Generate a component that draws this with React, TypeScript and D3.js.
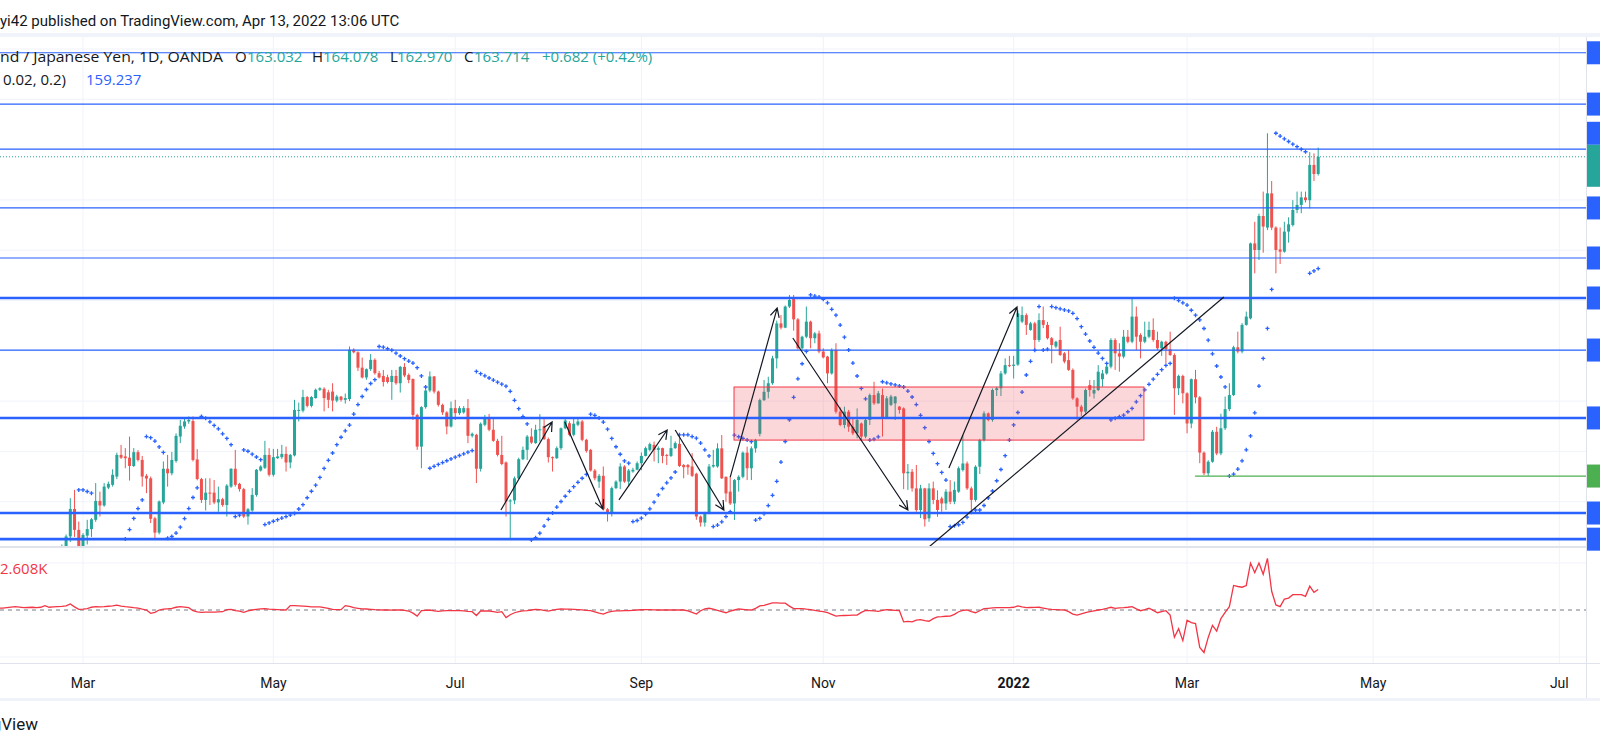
import React from "react";
import * as d3 from "d3";

// ---------- DATA ----------
const FIRST_BAR_DATE = "2021-02-01"; // daily bars, weekdays only

// [open, high, low, close] per daily bar, from 2021-02-01 to 2022-04-13
const candles: [number, number, number, number][] = [
  [143.9,144.3,143.4,143.8],[143.8,144.0,143.3,143.7],[143.7,144.2,143.6,144.0],[144.0,144.1,143.3,143.5],[143.5,143.9,143.2,143.8],
  [143.8,144.7,143.7,144.5],[144.5,144.6,143.6,143.9],[143.9,144.0,143.3,143.5],[143.5,144.2,143.4,144.1],[144.1,145.4,144.0,145.2],
  [145.2,146.5,145.1,146.3],[146.3,147.2,146.0,146.9],[146.9,147.1,146.4,146.7],[146.7,147.5,146.3,147.3],[147.3,148.0,147.0,147.8],
  [147.8,148.3,147.5,148.1],[148.1,148.7,147.8,148.62],[148.62,150.14,148.4,149.71],[149.71,150.47,148.6,148.88],[148.88,149.21,147.2,148.0],
  [148.0,148.75,147.6,148.68],[148.65,149.28,148.3,148.91],[148.91,149.35,148.6,149.3],[149.28,150.74,149.2,150.03],[150.03,150.4,149.41,149.85],
  [149.85,150.74,149.8,150.6],[150.56,150.8,150.5,150.71],[150.67,151.29,150.6,151.07],[151.0,151.95,150.9,151.86],[151.86,152.26,151.7,151.75],
  [151.8,152.13,151.33,151.73],[151.75,152.59,150.84,151.42],[151.42,152.13,151.38,151.97],[151.97,152.05,151.6,151.66],[151.66,151.82,150.6,151.0],
  [151.03,151.1,150.34,150.92],[150.93,151.0,149.15,149.32],[149.34,149.4,148.55,148.77],[148.77,150.05,148.7,150.01],[149.97,151.6,149.9,151.31],
  [151.31,151.86,150.6,151.13],[151.13,151.98,151.05,151.66],[151.62,152.72,151.55,152.62],[152.59,153.25,152.33,153.02],[152.99,153.3,152.9,153.19],
  [153.19,153.39,153.1,153.25],[153.21,153.39,151.6,151.66],[151.68,152.09,150.85,150.9],[150.9,150.95,149.95,150.07],[150.07,150.93,149.65,150.36],
  [150.36,150.93,149.87,150.34],[150.36,150.86,149.9,149.97],[149.97,150.6,149.6,150.1],[150.1,150.15,149.8,149.87],[149.87,150.7,149.41,150.64],
  [150.6,151.33,150.55,151.31],[151.31,152.06,150.6,150.67],[150.71,150.75,150.4,150.5],[150.5,150.55,149.35,149.41],[149.41,149.75,149.09,149.7],
  [149.65,150.54,149.6,150.27],[150.27,151.3,150.2,151.27],[151.24,151.45,151.2,151.4],[151.35,152.42,151.3,151.86],[151.86,152.13,151.0,151.07],
  [151.07,152.1,151.0,151.77],[151.73,152.1,151.7,151.8],[151.77,152.26,151.7,151.9],[151.9,152.19,151.2,151.56],[151.56,151.9,151.33,151.86],
  [151.84,154.05,151.8,153.65],[153.62,153.94,153.19,153.65],[153.62,154.45,153.55,154.16],[154.16,154.2,153.75,153.81],[153.81,154.2,153.75,154.16],
  [154.12,154.5,154.1,154.45],[154.45,154.55,154.4,154.51],[154.49,154.55,153.59,154.12],[154.35,154.45,153.72,154.05],[154.38,154.71,153.59,154.02],
  [154.02,154.25,153.95,154.18],[154.18,154.2,153.98,154.05],[154.05,154.3,153.9,154.12],[154.08,156.17,154.0,156.04],[156.04,156.1,155.9,155.94],
  [155.94,155.98,155.2,155.33],[155.33,155.73,154.9,154.94],[154.94,155.3,154.85,155.27],[155.27,155.87,155.2,155.64],[155.64,155.7,155.05,155.11],
  [155.11,155.2,154.9,154.94],[155.0,155.24,154.58,154.76],[154.95,155.05,154.7,154.76],[154.76,155.24,154.05,155.0],[155.0,155.24,154.65,154.71],
  [154.71,155.4,154.34,155.36],[155.36,155.51,154.95,155.02],[155.04,155.1,154.71,154.84],[154.88,154.9,153.25,153.45],[153.45,153.5,152.06,152.19],
  [152.19,153.8,151.33,153.76],[153.76,154.5,153.7,154.42],[154.42,155.18,154.35,154.98],[154.98,155.0,154.3,154.38],[154.38,154.42,153.78,153.85],
  [153.85,153.9,153.45,153.55],[153.55,153.6,152.68,152.99],[152.99,153.98,152.95,153.72],[153.72,154.05,153.25,153.52],[153.52,153.8,153.45,153.72],
  [153.55,153.8,153.5,153.72],[153.72,154.08,152.33,152.62],[152.62,152.75,152.55,152.7],[152.66,152.7,150.74,151.31],[151.31,153.15,151.2,153.1],
  [153.06,153.45,153.0,153.35],[153.29,153.49,152.8,152.86],[152.86,153.29,152.38,152.42],[152.42,152.5,151.8,151.86],[151.86,152.62,151.45,151.5],
  [151.56,151.6,149.41,150.01],[150.01,150.1,148.48,150.05],[150.05,151.0,149.9,150.93],[150.93,151.75,150.9,151.69],[151.69,152.19,151.65,152.06],
  [152.06,152.65,151.66,152.59],[152.59,152.92,152.3,152.35],[152.33,153.06,152.3,152.86],[152.86,153.48,152.39,152.88],[153.0,153.28,152.45,152.49],
  [152.49,152.55,151.56,151.77],[151.77,151.8,151.2,151.73],[151.73,152.2,151.7,152.13],[152.13,152.95,152.06,152.92],[152.92,153.3,152.88,153.23],
  [153.12,153.2,152.6,152.66],[152.66,153.32,152.6,153.1],[153.06,153.32,153.0,153.19],[153.19,153.25,152.4,152.46],[152.46,152.5,151.95,152.02],
  [152.06,152.1,151.2,151.24],[151.24,151.3,150.85,150.93],[150.8,151.1,150.55,151.03],[151.03,151.4,149.65,149.7],[149.7,149.75,149.21,149.54],
  [149.54,150.6,149.41,150.54],[150.54,150.85,150.5,150.8],[150.8,151.53,150.5,151.4],[151.4,151.45,150.75,150.8],[150.8,151.3,150.6,151.24],
  [151.2,151.35,151.15,151.27],[151.27,151.6,151.25,151.53],[151.53,151.96,151.25,151.82],[151.82,152.19,151.8,152.13],[152.06,152.35,152.0,152.29],
  [152.26,152.39,151.6,152.06],[152.06,152.2,151.53,152.13],[152.13,152.15,151.53,151.82],[151.86,151.9,151.46,151.82],[151.82,152.62,151.78,152.13],
  [152.13,152.4,152.1,152.33],[152.3,152.66,151.38,151.42],[151.46,151.5,150.93,151.37],[151.46,151.5,151.07,151.37],[151.4,151.93,150.98,151.03],
  [151.11,151.15,149.28,149.41],[149.41,149.45,149.01,149.17],[149.17,149.6,149.01,149.57],[149.54,151.5,149.5,151.4],[151.4,152.06,151.35,151.46],
  [151.4,152.32,151.35,152.12],[152.12,152.65,150.9,150.93],[150.99,151.0,150.0,150.33],[150.4,150.99,149.87,149.93],[149.93,150.9,149.27,150.86],
  [150.86,151.05,150.4,150.99],[150.99,152.0,150.93,151.95],[151.95,152.19,150.86,151.33],[151.33,152.2,150.86,152.12],[152.12,152.5,151.95,152.45],
  [152.7,154.1,152.6,154.04],[154.04,154.84,154.0,154.37],[154.37,154.97,154.11,154.71],[154.71,155.8,154.65,155.7],[155.7,157.2,155.3,157.09],
  [157.09,157.42,156.85,156.92],[156.92,157.8,156.9,157.76],[157.76,158.22,157.7,158.02],[158.09,158.22,156.8,157.25],[157.25,157.3,156.05,156.1],
  [156.1,156.6,156.05,156.56],[156.56,157.76,156.5,157.16],[157.16,157.2,156.1,156.5],[156.5,156.75,156.3,156.69],[156.69,156.8,155.9,155.97],
  [155.97,156.1,155.7,155.74],[155.77,155.8,154.71,155.1],[155.1,156.1,155.05,156.03],[156.03,156.3,153.5,153.58],[153.58,153.75,153.0,153.05],
  [153.05,153.78,152.92,153.58],[153.58,153.65,152.78,152.98],[152.98,153.3,152.65,152.72],[152.72,153.71,152.52,153.25],[153.11,153.15,152.45,152.59],
  [152.59,153.3,152.52,153.25],[153.25,154.3,153.05,154.24],[154.24,154.77,153.85,153.91],[153.91,154.4,153.9,154.31],[154.24,154.5,152.59,153.31],
  [153.31,154.2,153.3,154.11],[153.85,154.25,153.8,154.18],[153.91,154.2,153.25,154.18],[153.78,153.8,153.5,153.65],[153.71,153.75,150.5,151.13],
  [151.13,151.5,150.47,151.19],[151.19,151.3,150.4,150.53],[150.53,151.46,149.6,149.67],[149.67,150.67,149.35,150.53],[150.53,150.55,149.01,149.3],
  [149.34,150.73,149.2,150.53],[150.53,150.8,149.9,150.07],[150.07,150.45,149.4,149.67],[150.13,150.2,149.6,149.93],[149.93,150.5,149.67,150.4],
  [150.4,150.86,149.9,150.0],[150.0,150.8,149.9,150.47],[150.4,151.4,150.35,151.33],[151.26,152.65,151.2,151.52],[151.52,151.6,150.47,150.53],
  [150.53,150.6,149.67,150.07],[150.07,151.45,150.0,151.39],[151.39,152.5,151.1,152.45],[152.45,153.6,152.39,153.51],[153.51,153.55,153.2,153.25],
  [153.25,154.5,153.18,154.44],[154.44,154.57,154.2,154.51],[154.51,155.2,154.2,155.1],[155.1,155.7,155.05,155.43],[155.43,155.8,155.35,155.4],
  [155.4,155.8,154.9,155.45],[155.45,157.6,155.4,157.49],[157.16,157.76,157.1,157.42],[157.42,157.49,156.63,157.03],[156.83,157.15,156.8,157.09],
  [157.09,157.15,156.03,156.43],[156.43,157.49,156.35,157.22],[157.22,157.76,156.9,157.03],[157.03,157.15,156.45,156.5],[156.5,156.55,155.5,156.23],
  [156.17,156.4,156.1,156.36],[156.43,156.96,155.8,155.83],[155.9,155.95,155.5,155.57],[155.63,156.03,155.2,155.24],[155.24,155.3,154.05,154.11],
  [154.11,154.15,153.25,153.78],[153.78,153.85,153.4,153.58],[153.58,154.5,153.5,154.44],[154.64,154.84,154.18,154.44],[154.3,154.84,154.1,154.44],
  [154.44,155.43,154.4,155.17],[154.87,155.24,154.57,155.1],[155.1,155.45,155.05,155.37],[155.37,156.5,155.3,156.43],[156.43,156.5,155.24,155.9],
  [155.9,156.3,155.17,155.77],[155.77,156.83,155.7,156.56],[156.56,156.83,156.3,156.36],[156.36,158.09,156.3,157.36],[157.36,157.76,156.03,156.56],
  [156.63,156.7,155.7,156.36],[156.36,157.16,156.3,156.56],[156.56,157.16,156.5,156.83],[156.83,157.29,156.36,156.43],[156.43,156.76,156.03,156.1],
  [156.1,156.4,155.8,156.36],[156.36,156.4,155.5,156.06],[156.06,156.76,155.8,155.83],[155.83,155.9,153.45,154.51],[154.51,155.05,154.24,155.0],
  [155.0,155.05,153.91,154.31],[154.31,154.35,152.72,153.11],[153.11,154.9,152.92,154.87],[154.87,155.24,153.91,154.15],[154.15,154.2,151.53,151.95],
  [151.95,152.0,151.06,151.13],[151.13,151.65,151.02,151.59],[151.59,152.85,151.55,152.78],[152.78,152.98,151.85,151.92],[151.92,153.5,151.85,152.92],
  [152.92,154.18,152.85,153.68],[153.68,154.71,153.6,154.24],[154.24,156.2,154.2,156.14],[156.14,156.76,155.9,155.97],[155.97,157.1,155.9,157.03],
  [157.03,157.56,157.0,157.36],[157.29,160.3,157.25,160.27],[160.27,161.13,159.08,160.01],[160.01,161.45,159.61,161.36],[161.36,162.33,159.9,160.94],
  [160.9,164.65,160.8,162.26],[162.26,162.75,160.8,160.9],[160.9,160.95,159.08,160.01],[160.03,160.9,159.45,159.94],[159.94,161.13,159.9,160.74],
  [160.74,161.31,160.3,161.03],[161.0,161.99,160.94,161.6],[161.6,162.33,161.47,161.8],[161.8,162.33,161.47,162.1],[162.1,162.33,161.9,161.99],
  [161.99,163.9,161.66,163.39],[163.39,163.85,162.75,163.03],[163.032,164.078,162.97,163.714],
];

// lower pane oscillator, thousands
const oscillator: number[] = [
  0.22,0.25,0.30,0.36,0.43,0.38,0.30,0.32,0.35,0.30,0.35,0.56,0.35,0.40,0.43,0.45,0.52,0.78,0.40,0.09,
  0.12,0.17,0.35,0.43,0.39,0.42,0.48,0.52,0.61,0.50,0.43,0.38,0.30,0.25,0.10,0.0,-0.43,-0.30,0.0,0.10,
  0.15,0.20,0.35,0.43,0.38,0.30,-0.09,-0.25,-0.30,-0.28,-0.27,-0.26,-0.24,-0.22,0.05,0.09,-0.09,-0.15,-0.30,-0.10,
  0.0,0.08,0.15,0.17,0.12,0.09,0.05,0.02,0.0,0.56,0.55,0.52,0.50,0.45,0.39,0.40,0.39,0.30,0.20,0.09,
  0.06,0.04,0.56,0.45,0.30,0.22,0.15,0.13,0.08,0.04,0.02,0.0,0.02,-0.02,0.0,0.0,-0.05,-0.13,-0.40,-0.78,
  -0.09,-0.05,0.0,-0.10,-0.17,-0.12,-0.09,-0.08,-0.09,-0.09,-0.12,-0.18,-0.22,-0.70,-0.13,-0.12,-0.13,-0.20,-0.30,-0.22,
  -0.96,-0.60,-0.35,-0.20,-0.12,-0.09,0.0,0.09,0.05,-0.05,-0.13,-0.02,0.08,0.13,0.12,0.10,0.09,0.06,0.02,-0.05,
  -0.09,-0.25,-0.40,-0.52,-0.30,-0.17,-0.12,-0.10,-0.09,-0.09,-0.05,0.0,0.03,0.04,0.04,0.02,0.0,0.0,0.0,0.0,
  0.0,0.0,0.0,-0.10,-0.30,-0.52,-0.10,0.15,0.22,0.10,-0.05,-0.20,-0.35,-0.15,0.0,0.13,0.08,0.02,0.0,0.20,
  0.52,0.60,0.75,0.91,0.90,0.88,0.87,0.50,0.17,0.18,0.17,0.10,0.05,-0.05,-0.13,-0.20,-0.35,-0.55,-0.78,-0.72,
  -0.70,-0.68,-0.66,-0.65,-0.30,-0.04,-0.08,-0.12,-0.17,-0.05,0.04,0.0,-0.05,-0.09,-1.52,-1.45,-1.52,-1.30,-1.22,-1.35,
  -1.43,-1.10,-0.87,-0.85,-0.80,-0.78,-0.55,-0.22,-0.05,0.0,-0.20,-0.35,-0.10,0.17,0.22,0.26,0.30,0.30,0.30,0.30,
  0.35,0.52,0.40,0.30,0.32,0.34,0.35,0.25,0.15,0.09,0.05,0.02,0.0,-0.20,-0.52,-0.65,-0.50,-0.35,-0.22,-0.10,
  0.0,0.09,0.20,0.35,0.22,0.28,0.30,0.35,0.43,0.15,-0.09,0.05,0.22,-0.05,-0.35,-0.20,-0.09,-0.65,-3.48,-2.39,
  -3.91,-1.30,-1.60,-1.74,-4.78,-5.43,-3.50,-1.96,-2.69,-1.09,-0.30,0.43,3.13,3.00,2.91,3.13,5.99,4.78,5.99,4.56,
  6.60,2.39,0.65,0.43,1.39,1.52,1.96,1.96,1.96,1.74,3.04,2.26,2.61,
];

// horizontal levels drawn by the author
const thinLevels = [167.85, 165.81, 164.02, 161.68, 159.69, 156.03];
const thickLevels = [158.1, 153.33, 149.55, 148.51];
const supportLevel = 151.02;
const supportFromBar = 282.9;

// zone rectangle: [fromBar, toBar, lowPrice, highPrice]
const zone = [173.9, 270.8, 152.45, 154.56];

// arrows: [fromBar, fromPrice, toBar, toPrice]
const arrows = [
  [118.8, 149.67, 130.9, 153.17],
  [133.9, 153.17, 142.9, 149.71],
  [146.7, 150.07, 158.1, 152.85],
  [160.0, 152.85, 171.5, 149.67],
  [173.0, 150.98, 184.1, 157.7],
  [187.8, 156.51, 215.0, 149.67],
  [224.7, 151.34, 240.8, 157.74],
];
const trendLine = [215.0, 147.49, 289.7, 158.14];

const tickDates = ["2021-03-01", "2021-05-03", "2021-07-01", "2021-09-01", "2021-11-01", "2022-01-03", "2022-03-01", "2022-05-02", "2022-07-01"];
const tickLabels = ["Mar", "May", "Jul", "Sep", "Nov", "2022", "Mar", "May", "Jul"];

const priceGrid = [150, 152, 154, 156, 158, 160, 162, 164, 166, 168];
const oscGrid = [-6, 6];

// ---------- HELPERS ----------
function weekdayIndex(dateStr: string): number {
  const start = new Date(FIRST_BAR_DATE + "T00:00:00Z");
  const end = new Date(dateStr + "T00:00:00Z");
  let n = 0;
  for (let d = new Date(start); d < end; d.setUTCDate(d.getUTCDate() + 1)) {
    const wd = d.getUTCDay();
    if (wd !== 0 && wd !== 6) n++;
  }
  return n;
}

function parabolicSar(bars: [number, number, number, number][], start: number, inc: number, max: number) {
  const out: number[] = new Array(bars.length).fill(NaN);
  let result = NaN, maxMin = NaN, acc = start, isBelow = false;
  for (let b = 1; b < bars.length; b++) {
    const h = bars[b][1], l = bars[b][2], c = bars[b][3];
    let first = false;
    if (b === 1) {
      if (c > bars[0][3]) { isBelow = true; maxMin = h; result = bars[0][2]; }
      else { isBelow = false; maxMin = l; result = bars[0][1]; }
      first = true; acc = start;
    }
    result = result + acc * (maxMin - result);
    if (isBelow) {
      if (result > l) { first = true; isBelow = false; result = Math.max(h, maxMin); maxMin = l; acc = start; }
    } else {
      if (result < h) { first = true; isBelow = true; result = Math.min(l, maxMin); maxMin = h; acc = start; }
    }
    if (!first) {
      if (isBelow) { if (h > maxMin) { maxMin = h; acc = Math.min(acc + inc, max); } }
      else { if (l < maxMin) { maxMin = l; acc = Math.min(acc + inc, max); } }
    }
    if (isBelow) {
      result = Math.min(result, bars[b - 1][2]);
      if (b > 1) result = Math.min(result, bars[b - 2][2]);
    } else {
      result = Math.max(result, bars[b - 1][1]);
      if (b > 1) result = Math.max(result, bars[b - 2][1]);
    }
    out[b] = result;
  }
  return out;
}

// ---------- LAYOUT ----------
const W = 1600, H = 747;
const PLOT_R = 1586;
const MAIN_TOP = 37, MAIN_BOT = 547;
const OSC_TOP = 548, OSC_BOT = 663;
const AXIS_BOT = 699;
const UP = "#26a69a", DOWN = "#ef5350", BLUE = "#2962ff";
const FONT = "Roboto, 'Liberation Sans', Arial, sans-serif";
const LEGEND_FONT = "'Open Sans', Roboto, Arial, sans-serif";

export default function App() {
  const n = candles.length;
  const x = d3.scaleLinear().domain([0, n - 1]).range([-1.6, 1318.2]);
  const y = d3.scaleLinear().domain([148, 168]).range([552, 49]);
  const yo = d3.scaleLinear().domain([-6, 6]).range([657, 563]);
  const sar = parabolicSar(candles, 0.02, 0.02, 0.2);
  const last = candles[n - 1];
  const ticks = tickDates.map((d) => weekdayIndex(d));

  const oscLine = d3.line<number>().x((_, i) => x(i)).y((v) => yo(v))(oscillator) || "";

  // price-axis label boxes
  const curY = y(last[3]);
  const curBox = { top: curY - 12, bottom: curY + 30 };
  const levelBoxes = [...thinLevels, ...thickLevels].map((p) => {
    const cy = y(p);
    let top = cy - 11.5, bottom = cy + 11.5;
    if (bottom > curBox.top && top < curBox.bottom) {
      if (cy < curY) { bottom = curBox.top; top = bottom - 23; }
      else { top = curBox.bottom; bottom = top + 23; }
    }
    return { top, color: BLUE };
  });
  levelBoxes.push({ top: y(supportLevel) - 11.5, color: "#4caf50" });

  const arrowPath = (a: number[]) => {
    const x0 = x(a[0]), y0 = y(a[1]), x1 = x(a[2]), y1 = y(a[3]);
    const th = Math.atan2(y1 - y0, x1 - x0);
    const L = 10, al = (27 * Math.PI) / 180;
    const h1 = [x1 - L * Math.cos(th - al), y1 - L * Math.sin(th - al)];
    const h2 = [x1 - L * Math.cos(th + al), y1 - L * Math.sin(th + al)];
    return `M${x0},${y0}L${x1},${y1}M${h1[0]},${h1[1]}L${x1},${y1}L${h2[0]},${h2[1]}`;
  };

  return (
    <div style={{ position: "fixed", left: 0, top: 0, width: W, height: H, background: "#fff" }}>
      <svg width={W} height={H} style={{ display: "block", fontFamily: FONT }}>
        <defs>
          <clipPath id="mainClip"><rect x={0} y={MAIN_TOP} width={PLOT_R} height={MAIN_BOT - MAIN_TOP} /></clipPath>
          <clipPath id="oscClip"><rect x={0} y={OSC_TOP} width={PLOT_R} height={OSC_BOT - OSC_TOP} /></clipPath>
        </defs>
        <rect x={0} y={0} width={W} height={H} fill="#ffffff" />

        {/* header */}
        <text x={0} y={26} fontSize={15} fill="#131722">yi42 published on TradingView.com, Apr 13, 2022 13:06 UTC</text>
        <rect x={0} y={33} width={W} height={4} fill="#f0f3fa" />

        {/* grid */}
        <g stroke="#f0f3fa" strokeWidth={1}>
          {ticks.map((t, i) => (
            <line key={"vg" + i} x1={x(t)} x2={x(t)} y1={MAIN_TOP} y2={OSC_BOT} />
          ))}
          {priceGrid.map((p) => (
            <line key={"hg" + p} x1={0} x2={PLOT_R} y1={y(p)} y2={y(p)} clipPath="url(#mainClip)" />
          ))}
          {oscGrid.map((v) => (
            <line key={"og" + v} x1={0} x2={PLOT_R} y1={yo(v)} y2={yo(v)} />
          ))}
        </g>

        {/* current price line */}
        <line x1={0} x2={PLOT_R} y1={curY} y2={curY} stroke={UP} strokeWidth={1} strokeDasharray="1,2" />

        {/* candles */}
        <g clipPath="url(#mainClip)">
          {candles.map((c, i) => {
            const [o, h, l, cl] = c;
            const col = cl >= o ? UP : DOWN;
            const cx = x(i);
            const top = y(Math.max(o, cl));
            const bh = Math.max(1, y(Math.min(o, cl)) - top);
            return (
              <g key={"c" + i}>
                <line x1={cx} x2={cx} y1={y(h)} y2={y(l)} stroke={col} strokeWidth={1} />
                <rect x={cx - 1.5} y={top} width={3} height={bh} fill={col} />
              </g>
            );
          })}
          {/* parabolic SAR */}
          {sar.map((s, i) =>
            isNaN(s) ? null : (
              <path key={"s" + i} d={`M${x(i) - 2},${y(s)}H${x(i) + 2}M${x(i)},${y(s) - 2}V${y(s) + 2}`} stroke={BLUE} strokeWidth={1.3} fill="none" />
            )
          )}

          {/* drawings */}
          <rect x={x(zone[0])} y={y(zone[3])} width={x(zone[1]) - x(zone[0])} height={y(zone[2]) - y(zone[3])}
            fill="rgba(242,54,69,0.2)" stroke="#f23645" strokeWidth={1} />
          {thinLevels.map((p) => (
            <line key={"tl" + p} x1={0} x2={PLOT_R} y1={y(p)} y2={y(p)} stroke={BLUE} strokeWidth={1.2} />
          ))}
          {thickLevels.map((p) => (
            <line key={"kl" + p} x1={0} x2={PLOT_R} y1={y(p)} y2={y(p)} stroke={BLUE} strokeWidth={2.6} />
          ))}
          <line x1={x(supportFromBar)} x2={PLOT_R} y1={y(supportLevel)} y2={y(supportLevel)} stroke="#4caf50" strokeWidth={1.3} />
          <g stroke="#131722" strokeWidth={1.2} fill="none">
            {arrows.map((a, i) => <path key={"a" + i} d={arrowPath(a)} />)}
            <line x1={x(trendLine[0])} y1={y(trendLine[1])} x2={x(trendLine[2])} y2={y(trendLine[3])} />
          </g>
        </g>

        {/* legend */}
        <text x={0} y={62} fontSize={15} fill="#131722" style={{ fontFamily: LEGEND_FONT }}
          textLength={223} lengthAdjust="spacingAndGlyphs">nd / Japanese Yen, 1D, OANDA</text>
        <text y={62} fontSize={15} fill="#131722" style={{ fontFamily: LEGEND_FONT }}>
          <tspan x={235}>O</tspan><tspan x={247} fill={UP}>163.032</tspan>
          <tspan x={312}>H</tspan><tspan x={323} fill={UP}>164.078</tspan>
          <tspan x={390}>L</tspan><tspan x={397} fill={UP}>162.970</tspan>
          <tspan x={464}>C</tspan><tspan x={474} fill={UP}>163.714</tspan>
          <tspan x={542} fill={UP}>+0.682 (+0.42%)</tspan>
        </text>
        <text y={85} fontSize={15} fill="#131722" style={{ fontFamily: LEGEND_FONT }}>
          <tspan x={3}>0.02, 0.2)</tspan>
          <tspan x={86} fill={BLUE}>159.237</tspan>
        </text>

        {/* pane separators and borders */}
        <rect x={0} y={MAIN_BOT - 1} width={PLOT_R} height={2} fill="#e0e3eb" />
        <line x1={0} x2={W} y1={OSC_BOT + 0.5} y2={OSC_BOT + 0.5} stroke="#e0e3eb" strokeWidth={1} />
        <line x1={PLOT_R + 0.5} x2={PLOT_R + 0.5} y1={MAIN_TOP} y2={AXIS_BOT} stroke="#e0e3eb" strokeWidth={1} />
        <rect x={0} y={AXIS_BOT - 1} width={W} height={3} fill="#f0f3fa" />

        {/* oscillator pane */}
        <line x1={0} x2={PLOT_R} y1={yo(0)} y2={yo(0)} stroke="#787b86" strokeWidth={1} strokeDasharray="4,4" />
        <path d={oscLine} fill="none" stroke="#f23645" strokeWidth={1.3} clipPath="url(#oscClip)" />
        <text x={0} y={574} fontSize={15} fill="#f23645" style={{ fontFamily: LEGEND_FONT }}>2.608K</text>

        {/* price-axis labels (cropped) */}
        {levelBoxes.map((b, i) => (
          <rect key={"pb" + i} x={PLOT_R + 1} y={b.top} width={60} height={23} fill={b.color} />
        ))}
        <rect x={PLOT_R + 1} y={curBox.top} width={60} height={curBox.bottom - curBox.top} fill={UP} />

        {/* time axis */}
        {ticks.map((t, i) => (
          <text key={"tx" + i} x={x(t)} y={688} fontSize={14} textAnchor="middle" fill="#131722"
            fontWeight={tickLabels[i] === "2022" ? 700 : 400}>{tickLabels[i]}</text>
        ))}

        {/* footer */}
        <text x={38} y={730} fontSize={17} textAnchor="end" fill="#131722">TradingView</text>
      </svg>
    </div>
  );
}
